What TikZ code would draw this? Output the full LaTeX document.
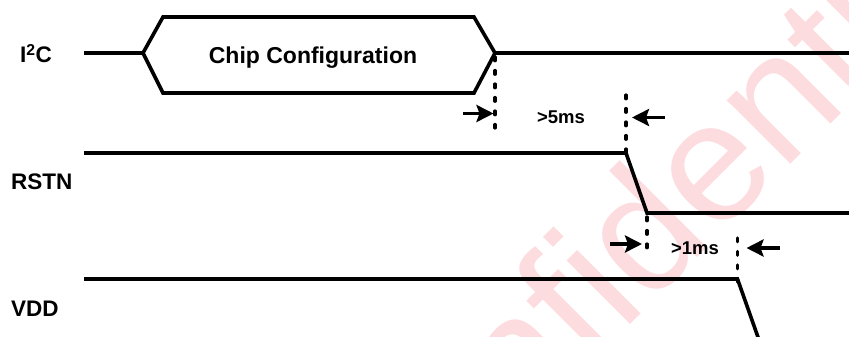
\documentclass[tikz,border=0pt]{standalone}
\usepackage{fontspec}
\setmainfont{Liberation Sans}
\usetikzlibrary{arrows.meta}
\definecolor{wmpink}{RGB}{253,220,223}
\begin{document}
\begin{tikzpicture}[x=1pt,y=-1pt,
  sig/.style={line width=3.6pt, line join=miter},
  marker/.style={line width=3.2pt, line cap=round, dash pattern=on 3.8pt off 9.7pt},
  ptr/.style={line width=3.5pt, -{Stealth[length=17pt,width=17pt,inset=3pt]}},
  lbl/.style={font=\bfseries\fontsize{22.5}{27}\selectfont, anchor=base west, inner sep=0pt},
  tlbl/.style={font=\bfseries\fontsize{18.5}{22}\selectfont, anchor=base, inner sep=0pt}
]
\useasboundingbox (0,0) rectangle (849,337);
\clip (0,0) rectangle (849,337);

% watermark
\node[rotate=45, anchor=base west, text=wmpink, inner sep=0pt,
      font=\fontsize{170}{180}\selectfont] (wm) at (368,587) {Confidential};

% I2C bus with configuration window
\coordinate (i2cL) at (84,53);
\coordinate (hexL) at (143,53);
\coordinate (hexTL) at (163,17);
\coordinate (hexTR) at (474,17);
\coordinate (hexR) at (495,53);
\coordinate (hexBR) at (474,93);
\coordinate (hexBL) at (163,93);
\coordinate (i2cR) at (851,53);
\draw[sig] (i2cL) -- (hexL);
\draw[sig] (hexL) -- (hexTL) -- (hexTR) -- (hexR) -- (hexBR) -- (hexBL) -- cycle;
\draw[sig] (hexR) -- (i2cR);
\node[font=\bfseries\fontsize{23}{27}\selectfont, anchor=base, inner sep=0pt] (cfg) at (313,63.3) {Chip Configuration};

% RSTN
\coordinate (rstA) at (84,153);
\coordinate (rstB) at (626,153);
\coordinate (rstC) at (647,213);
\coordinate (rstD) at (851,213);
\draw[sig] (rstA) -- (rstB) -- (rstC) -- (rstD);

% VDD
\coordinate (vddA) at (84,279);
\coordinate (vddB) at (737.5,279);
\coordinate (vddC) at (759,340);
\draw[sig] (vddA) -- (vddB) -- (vddC);

% signal names
\node[lbl] (lI2C) at (20,63) {I\textsuperscript{2}C};
\node[lbl] (lRST) at (11,189.3) {RSTN};
\node[lbl] (lVDD) at (11,316.7) {VDD};

% timing markers
\coordinate (m1b) at (495,128);
\coordinate (m2t) at (626,95);
\coordinate (m3t) at (647,217);
\coordinate (m3b) at (647,257);
\coordinate (m4t) at (737.5,238);
\draw[marker] ([yshift=-4pt]hexR) -- (m1b);
\draw[marker] (m2t) -- ([yshift=-3pt]rstB);
\draw[marker] (m3t) -- (m3b);
\draw[marker] (m4t) -- ([yshift=-3pt]vddB);

% arrows
\coordinate (a1s) at (463,113.5);
\coordinate (a1e) at (493.5,113.5);
\coordinate (a2s) at (665,117.5);
\coordinate (a2e) at (632,117.5);
\coordinate (a3s) at (610,244);
\coordinate (a3e) at (642,244);
\coordinate (a4s) at (780,248);
\coordinate (a4e) at (746.5,248);
\draw[ptr] (a1s) -- (a1e);
\draw[ptr] (a2s) -- (a2e);
\draw[ptr] (a3s) -- (a3e);
\draw[ptr] (a4s) -- (a4e);

\node[tlbl] (t5) at (561,124) {>5ms};
\node[tlbl] (t1) at (695,254) {>1ms};
\end{tikzpicture}
\end{document}
